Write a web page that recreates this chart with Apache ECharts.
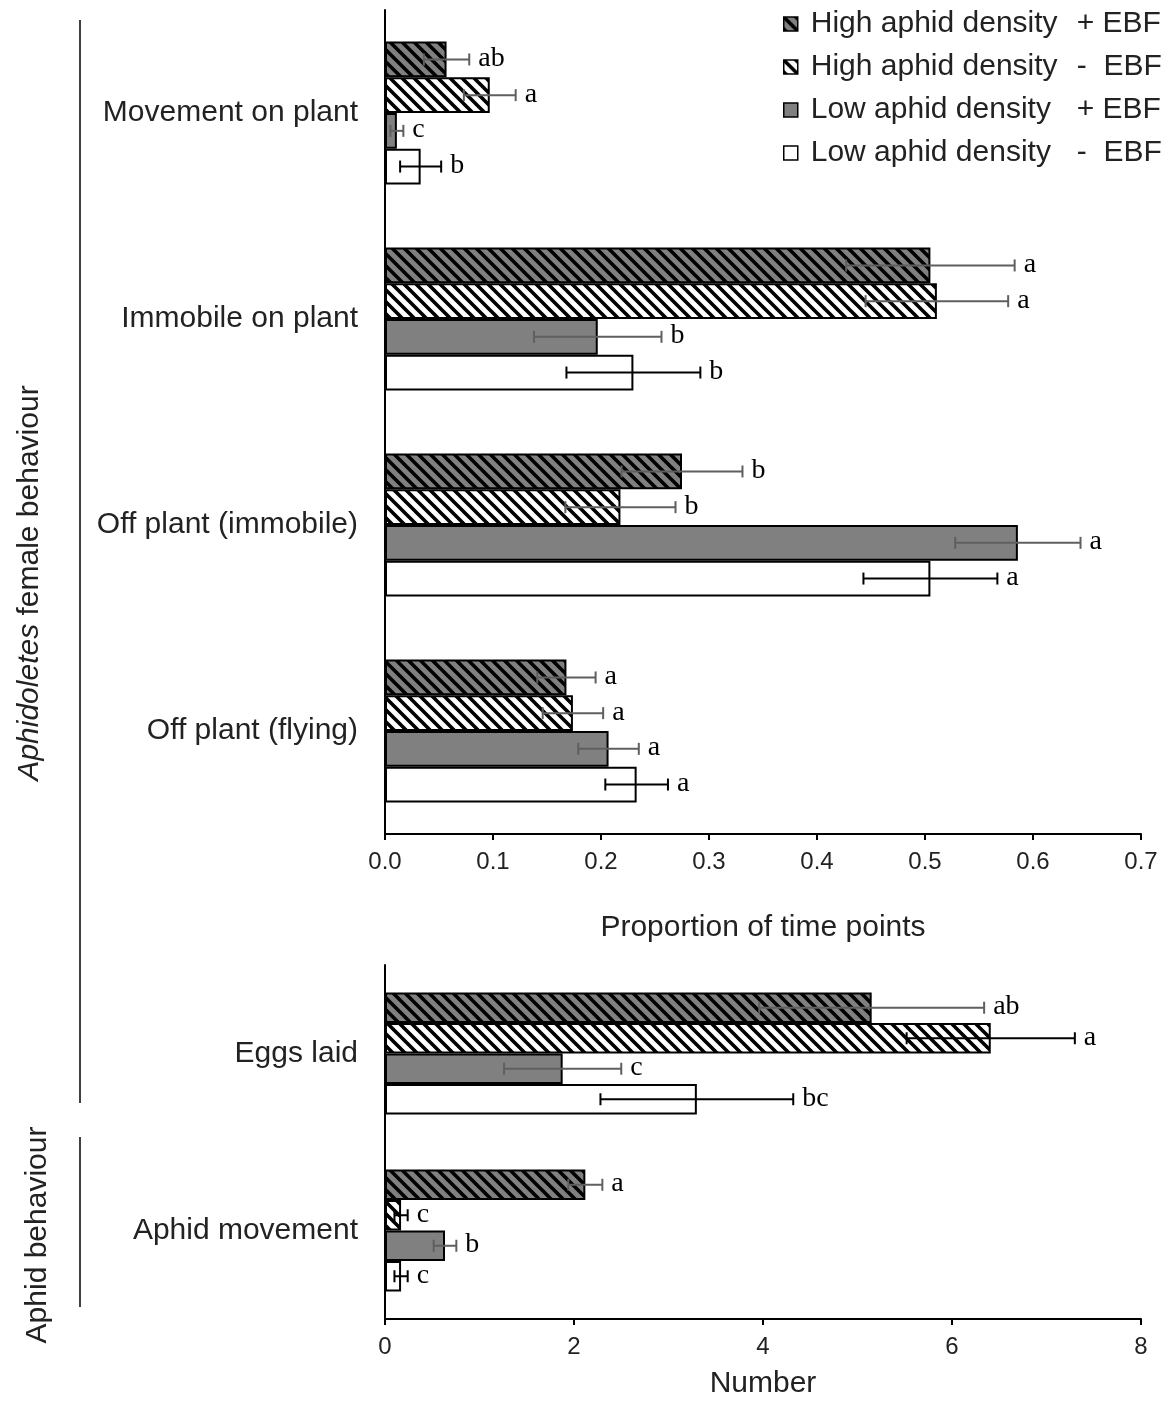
<!DOCTYPE html>
<html>
<head>
<meta charset="utf-8">
<script src="https://cdn.jsdelivr.net/npm/echarts@6/dist/echarts.min.js"></script>
<style>
html,body{margin:0;padding:0;background:#fff;}
#main{width:1168px;height:1405px;}
</style>
</head>
<body>
<div id="main"></div>
<script>
// categories
var topCategories = ['Movement on plant', 'Immobile on plant', 'Off plant (immobile)', 'Off plant (flying)'];
var bottomCategories = ['Eggs laid', 'Aphid movement'];

// legend names
var densityLabels = ['High aphid density', 'High aphid density', 'Low aphid density', 'Low aphid density'];
var ebfLabels = ['+ EBF', '-  EBF', '+ EBF', '-  EBF'];
var seriesNames = ['High aphid density + EBF', 'High aphid density - EBF', 'Low aphid density + EBF', 'Low aphid density - EBF'];

// proportion of time points (top panel)
var highPlusTop = [0.057, 0.505, 0.275, 0.168];
var highPlusTopErr = [0.021, 0.078, 0.056, 0.027];
var highPlusTopLetters = ['ab', 'a', 'b', 'a'];
var highMinusTop = [0.097, 0.511, 0.218, 0.174];
var highMinusTopErr = [0.024, 0.066, 0.051, 0.028];
var highMinusTopLetters = ['a', 'a', 'b', 'a'];
var lowPlusTop = [0.011, 0.197, 0.586, 0.207];
var lowPlusTopErr = [0.006, 0.059, 0.058, 0.028];
var lowPlusTopLetters = ['c', 'b', 'a', 'a'];
var lowMinusTop = [0.033, 0.230, 0.505, 0.233];
var lowMinusTopErr = [0.019, 0.062, 0.062, 0.029];
var lowMinusTopLetters = ['b', 'b', 'a', 'a'];

// number (bottom panel)
var highPlusBottom = [5.15, 2.12];
var highPlusBottomErr = [1.19, 0.18];
var highPlusBottomLetters = ['ab', 'a'];
var highMinusBottom = [6.41, 0.17];
var highMinusBottomErr = [0.89, 0.07];
var highMinusBottomLetters = ['a', 'c'];
var lowPlusBottom = [1.88, 0.635];
var lowPlusBottomErr = [0.62, 0.12];
var lowPlusBottomLetters = ['c', 'b'];
var lowMinusBottom = [3.30, 0.17];
var lowMinusBottomErr = [1.02, 0.07];
var lowMinusBottomLetters = ['bc', 'c'];

// axis ticks: min, max, step
var topTicks = [0, 0.7, 0.1];
var bottomTicks = [0, 8, 2];

function makeHatch(bg) {
    var c = document.createElement('canvas');
    c.width = 12; c.height = 12;
    var ctx = c.getContext('2d');
    ctx.fillStyle = bg;
    ctx.fillRect(0, 0, 12, 12);
    ctx.strokeStyle = '#000';
    ctx.lineWidth = 3.6;
    ctx.beginPath();
    [-12, 0, 12].forEach(function (k) {
        ctx.moveTo(k - 3, -3);
        ctx.lineTo(k + 15, 15);
    });
    ctx.stroke();
    return c;
}

var fills = [
    { image: makeHatch('#808080'), repeat: 'repeat' },
    { image: makeHatch('#ffffff'), repeat: 'repeat' },
    '#808080',
    '#ffffff'
];
var errColorsTop = ['#5f5f5f', '#5f5f5f', '#5f5f5f', '#000'];
var errColorsBottom = ['#5f5f5f', '#000', '#5f5f5f', '#000'];

var chart = echarts.init(document.getElementById('main'), null, { renderer: 'canvas' });

function barSeries(idx, gridIdx, data, barW) {
    return {
        type: 'bar',
        name: seriesNames[idx],
        xAxisIndex: gridIdx,
        yAxisIndex: gridIdx,
        data: data,
        barWidth: barW,
        barGap: '0%',
        itemStyle: { color: fills[idx], borderColor: '#000', borderWidth: 2 },
        emphasis: { disabled: true },
        z: 2
    };
}

// error bar + significance letter, one custom series per bar series
function errSeries(idx, gridIdx, values, errs, letters, color, barW) {
    return {
        type: 'custom',
        name: 'err' + gridIdx + '_' + idx,
        xAxisIndex: gridIdx,
        yAxisIndex: gridIdx,
        z: 5,
        data: values.map(function (v, i) { return [v, i, errs[i]]; }),
        renderItem: function (params, api) {
            var v = api.value(0), cat = api.value(1), e = api.value(2);
            var c = api.coord([v, cat]);
            var y = c[1] + (idx - 1.5) * barW;
            var lo = api.coord([v - e, cat])[0];
            var hi = api.coord([v + e, cat])[0];
            var st = { stroke: color, lineWidth: 2 };
            return {
                type: 'group',
                children: [
                    { type: 'line', shape: { x1: lo, y1: y, x2: hi, y2: y }, style: st },
                    { type: 'line', shape: { x1: lo, y1: y - 6, x2: lo, y2: y + 6 }, style: st },
                    { type: 'line', shape: { x1: hi, y1: y - 6, x2: hi, y2: y + 6 }, style: st },
                    { type: 'text', x: hi + 9, y: y - 1, style: {
                        text: letters[params.dataIndex], fill: '#000',
                        font: '28px "Liberation Serif", "DejaVu Serif", serif',
                        textAlign: 'left', textVerticalAlign: 'middle' } }
                ]
            };
        }
    };
}

var barWTop = 35.7, barWBottom = 30.5;
var series = [
    barSeries(0, 0, highPlusTop, barWTop),
    barSeries(1, 0, highMinusTop, barWTop),
    barSeries(2, 0, lowPlusTop, barWTop),
    barSeries(3, 0, lowMinusTop, barWTop),
    barSeries(0, 1, highPlusBottom, barWBottom),
    barSeries(1, 1, highMinusBottom, barWBottom),
    barSeries(2, 1, lowPlusBottom, barWBottom),
    barSeries(3, 1, lowMinusBottom, barWBottom),
    errSeries(0, 0, highPlusTop, highPlusTopErr, highPlusTopLetters, errColorsTop[0], barWTop),
    errSeries(1, 0, highMinusTop, highMinusTopErr, highMinusTopLetters, errColorsTop[1], barWTop),
    errSeries(2, 0, lowPlusTop, lowPlusTopErr, lowPlusTopLetters, errColorsTop[2], barWTop),
    errSeries(3, 0, lowMinusTop, lowMinusTopErr, lowMinusTopLetters, errColorsTop[3], barWTop),
    errSeries(0, 1, highPlusBottom, highPlusBottomErr, highPlusBottomLetters, errColorsBottom[0], barWBottom),
    errSeries(1, 1, highMinusBottom, highMinusBottomErr, highMinusBottomLetters, errColorsBottom[1], barWBottom),
    errSeries(2, 1, lowPlusBottom, lowPlusBottomErr, lowPlusBottomLetters, errColorsBottom[2], barWBottom),
    errSeries(3, 1, lowMinusBottom, lowMinusBottomErr, lowMinusBottomLetters, errColorsBottom[3], barWBottom)
];

var sansFont = 'Liberation Sans';
var axisLineStyle = { show: true, lineStyle: { color: '#000', width: 2 } };

function valueAxis(gridIdx, ticks, name, nameGap, fmt) {
    return {
        type: 'value', gridIndex: gridIdx,
        min: ticks[0], max: ticks[1], interval: ticks[2],
        name: name, nameLocation: 'middle', nameGap: nameGap,
        nameTextStyle: { fontFamily: sansFont, fontSize: 30, color: '#222' },
        axisLine: axisLineStyle,
        axisTick: { show: true, length: 6, lineStyle: { color: '#000', width: 2 } },
        axisLabel: { fontFamily: sansFont, fontSize: 24, color: '#222', margin: 16, formatter: fmt },
        splitLine: { show: false }
    };
}

function catAxis(gridIdx, cats) {
    return {
        type: 'category', gridIndex: gridIdx, data: cats, inverse: true,
        axisLine: axisLineStyle,
        axisTick: { show: false },
        axisLabel: { fontFamily: sansFont, fontSize: 30, color: '#222', margin: 27 }
    };
}

chart.setOption({
    animation: false,
    backgroundColor: '#fff',
    grid: [
        { left: 385, top: 10, width: 756, height: 824 },
        { left: 385, top: 965, width: 756, height: 354 }
    ],
    xAxis: [
        valueAxis(0, topTicks, 'Proportion of time points', 79, function (v) { return v.toFixed(1); }),
        valueAxis(1, bottomTicks, 'Number', 50, function (v) { return String(v); })
    ],
    yAxis: [catAxis(0, topCategories), catAxis(1, bottomCategories)],
    legend: {
        data: seriesNames,
        orient: 'vertical',
        left: 778, top: 4,
        itemWidth: 14, itemHeight: 14, itemGap: 13,
        icon: 'rect',
        itemStyle: { borderColor: '#000', borderWidth: 1.5 },
        formatter: function (name) {
            var i = seriesNames.indexOf(name);
            return '{d|' + densityLabels[i] + '}{s|' + ebfLabels[i] + '}';
        },
        textStyle: {
            fontFamily: sansFont, fontSize: 30, color: '#222', lineHeight: 30,
            rich: {
                d: { fontFamily: sansFont, fontSize: 30, color: '#222', width: 266, padding: [0, 0, 0, 8] },
                s: { fontFamily: sansFont, fontSize: 30, color: '#222' }
            }
        }
    },
    graphic: [
        { type: 'line', shape: { x1: 80, y1: 20, x2: 80, y2: 1103 }, style: { stroke: '#000', lineWidth: 1.5 } },
        { type: 'line', shape: { x1: 80, y1: 1137, x2: 80, y2: 1307 }, style: { stroke: '#000', lineWidth: 1.5 } },
        { type: 'text', x: 30, y: 583, rotation: Math.PI / 2, style: {
            text: '{i|Aphidoletes} female behaviour', textAlign: 'center', textVerticalAlign: 'middle',
            font: '30px "Liberation Sans"', fill: '#222',
            rich: { i: { fontStyle: 'italic', fontFamily: sansFont, fontSize: 30, fill: '#222' } } } },
        { type: 'text', x: 38, y: 1235, rotation: Math.PI / 2, style: {
            text: 'Aphid behaviour', textAlign: 'center', textVerticalAlign: 'middle',
            font: '30px "Liberation Sans"', fill: '#222' } }
    ],
    series: series
});
</script>
</body>
</html>
